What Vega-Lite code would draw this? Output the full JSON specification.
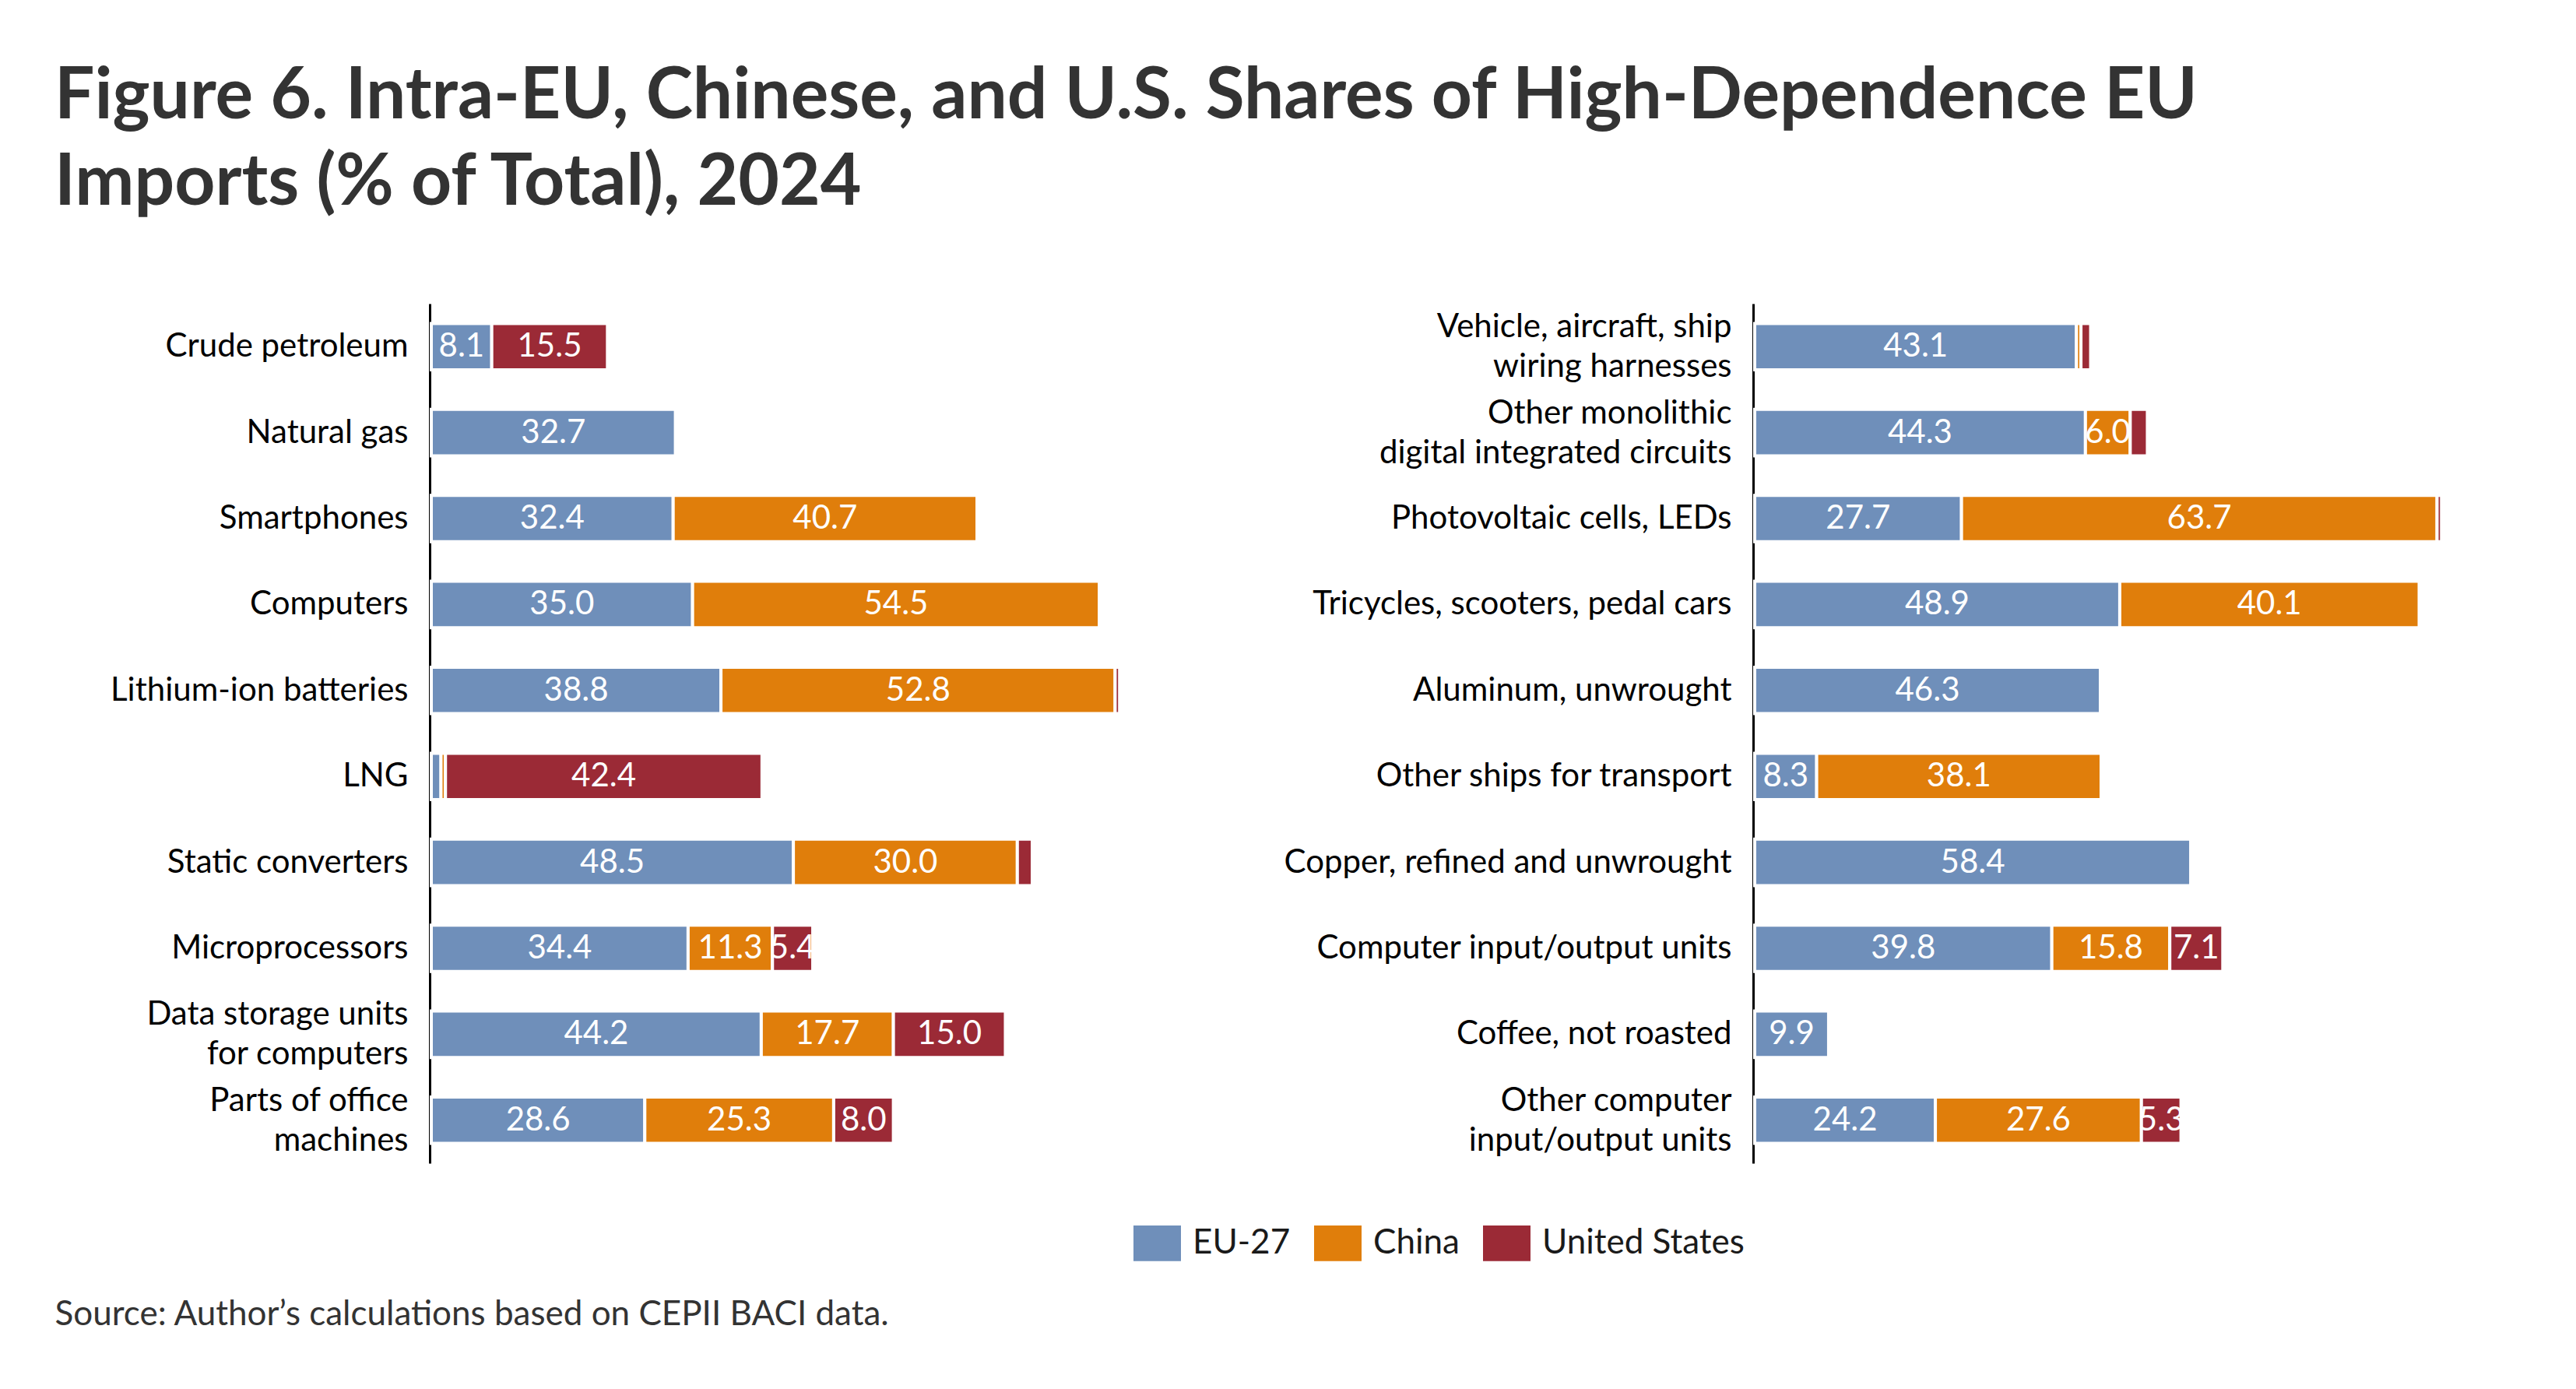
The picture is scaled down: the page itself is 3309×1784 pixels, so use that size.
{
 "$schema": "https://vega.github.io/schema/vega-lite/v6.json",
 "background": "white",
 "padding": {"left": 70, "top": 79, "right": 0, "bottom": 0},
 "title": {"text": ["Figure 6. Intra-EU, Chinese, and U.S. Shares of High-Dependence EU", "Imports (% of Total), 2024"], "anchor": "start", "frame": "bounds", "font": "Lato", "fontSize": 91, "fontWeight": "bold", "color": "#333333", "lineHeight": 111, "offset": 108},
 "config": {
  "font": "Lato",
  "view": {"stroke": null},
  "axisY": {"domain": true, "domainColor": "#000000", "domainWidth": 3, "offset": 2, "ticks": false, "grid": false, "title": null, "labelFont": "Lato", "labelFontSize": 42, "labelColor": "#000000", "labelPadding": 28, "labelLineHeight": 51, "labelLimit": 1000, "zindex": 1},
  "legend": {"orient": "none", "direction": "horizontal", "title": null, "symbolType": "M-1,-0.75H1V0.75H-1Z", "symbolSize": 3721, "symbolStrokeWidth": 0, "labelFont": "Lato", "labelFontSize": 44, "labelColor": "#1a1a1a", "labelOffset": 15, "labelLimit": 1000, "columnPadding": 30, "legendX": 902, "legendY": 1176}
 },
 "data": {"values": [
  {"panel": "L", "row": 1, "product": "Crude petroleum", "source": "EU-27", "k": 1, "value": 8.1},
  {"panel": "L", "row": 1, "product": "Crude petroleum", "source": "United States", "k": 3, "value": 15.5},
  {"panel": "L", "row": 2, "product": "Natural gas", "source": "EU-27", "k": 1, "value": 32.7},
  {"panel": "L", "row": 3, "product": "Smartphones", "source": "EU-27", "k": 1, "value": 32.4},
  {"panel": "L", "row": 3, "product": "Smartphones", "source": "China", "k": 2, "value": 40.7},
  {"panel": "L", "row": 4, "product": "Computers", "source": "EU-27", "k": 1, "value": 35.0},
  {"panel": "L", "row": 4, "product": "Computers", "source": "China", "k": 2, "value": 54.5},
  {"panel": "L", "row": 4, "product": "Computers", "source": "United States", "k": 3, "value": 0.3},
  {"panel": "L", "row": 5, "product": "Lithium-ion batteries", "source": "EU-27", "k": 1, "value": 38.8},
  {"panel": "L", "row": 5, "product": "Lithium-ion batteries", "source": "China", "k": 2, "value": 52.8},
  {"panel": "L", "row": 5, "product": "Lithium-ion batteries", "source": "United States", "k": 3, "value": 0.6},
  {"panel": "L", "row": 6, "product": "LNG", "source": "EU-27", "k": 1, "value": 1.3},
  {"panel": "L", "row": 6, "product": "LNG", "source": "China", "k": 2, "value": 0.6},
  {"panel": "L", "row": 6, "product": "LNG", "source": "United States", "k": 3, "value": 42.4},
  {"panel": "L", "row": 7, "product": "Static converters", "source": "EU-27", "k": 1, "value": 48.5},
  {"panel": "L", "row": 7, "product": "Static converters", "source": "China", "k": 2, "value": 30.0},
  {"panel": "L", "row": 7, "product": "Static converters", "source": "United States", "k": 3, "value": 2.0},
  {"panel": "L", "row": 8, "product": "Microprocessors", "source": "EU-27", "k": 1, "value": 34.4},
  {"panel": "L", "row": 8, "product": "Microprocessors", "source": "China", "k": 2, "value": 11.3},
  {"panel": "L", "row": 8, "product": "Microprocessors", "source": "United States", "k": 3, "value": 5.4},
  {"panel": "L", "row": 9, "product": "Data storage units|for computers", "source": "EU-27", "k": 1, "value": 44.2},
  {"panel": "L", "row": 9, "product": "Data storage units|for computers", "source": "China", "k": 2, "value": 17.7},
  {"panel": "L", "row": 9, "product": "Data storage units|for computers", "source": "United States", "k": 3, "value": 15.0},
  {"panel": "L", "row": 10, "product": "Parts of office|machines", "source": "EU-27", "k": 1, "value": 28.6},
  {"panel": "L", "row": 10, "product": "Parts of office|machines", "source": "China", "k": 2, "value": 25.3},
  {"panel": "L", "row": 10, "product": "Parts of office|machines", "source": "United States", "k": 3, "value": 8.0},
  {"panel": "R", "row": 1, "product": "Vehicle, aircraft, ship|wiring harnesses", "source": "EU-27", "k": 1, "value": 43.1},
  {"panel": "R", "row": 1, "product": "Vehicle, aircraft, ship|wiring harnesses", "source": "China", "k": 2, "value": 0.6},
  {"panel": "R", "row": 1, "product": "Vehicle, aircraft, ship|wiring harnesses", "source": "United States", "k": 3, "value": 1.3},
  {"panel": "R", "row": 2, "product": "Other monolithic|digital integrated circuits", "source": "EU-27", "k": 1, "value": 44.3},
  {"panel": "R", "row": 2, "product": "Other monolithic|digital integrated circuits", "source": "China", "k": 2, "value": 6.0},
  {"panel": "R", "row": 2, "product": "Other monolithic|digital integrated circuits", "source": "United States", "k": 3, "value": 2.3},
  {"panel": "R", "row": 3, "product": "Photovoltaic cells, LEDs", "source": "EU-27", "k": 1, "value": 27.7},
  {"panel": "R", "row": 3, "product": "Photovoltaic cells, LEDs", "source": "China", "k": 2, "value": 63.7},
  {"panel": "R", "row": 3, "product": "Photovoltaic cells, LEDs", "source": "United States", "k": 3, "value": 0.6},
  {"panel": "R", "row": 4, "product": "Tricycles, scooters, pedal cars", "source": "EU-27", "k": 1, "value": 48.9},
  {"panel": "R", "row": 4, "product": "Tricycles, scooters, pedal cars", "source": "China", "k": 2, "value": 40.1},
  {"panel": "R", "row": 5, "product": "Aluminum, unwrought", "source": "EU-27", "k": 1, "value": 46.3},
  {"panel": "R", "row": 6, "product": "Other ships for transport", "source": "EU-27", "k": 1, "value": 8.3},
  {"panel": "R", "row": 6, "product": "Other ships for transport", "source": "China", "k": 2, "value": 38.1},
  {"panel": "R", "row": 7, "product": "Copper, refined and unwrought", "source": "EU-27", "k": 1, "value": 58.4},
  {"panel": "R", "row": 8, "product": "Computer input/output units", "source": "EU-27", "k": 1, "value": 39.8},
  {"panel": "R", "row": 8, "product": "Computer input/output units", "source": "China", "k": 2, "value": 15.8},
  {"panel": "R", "row": 8, "product": "Computer input/output units", "source": "United States", "k": 3, "value": 7.1},
  {"panel": "R", "row": 9, "product": "Coffee, not roasted", "source": "EU-27", "k": 1, "value": 9.9},
  {"panel": "R", "row": 10, "product": "Other computer|input/output units", "source": "EU-27", "k": 1, "value": 24.2},
  {"panel": "R", "row": 10, "product": "Other computer|input/output units", "source": "China", "k": 2, "value": 27.6},
  {"panel": "R", "row": 10, "product": "Other computer|input/output units", "source": "United States", "k": 3, "value": 5.3}
 ]},
 "spacing": 136,
 "resolve": {"scale": {"color": "shared"}},
 "hconcat": [
  {
   "width": 959, "height": 1104,
   "transform": [
    {"filter": "datum.panel === 'L'"},
    {"stack": "value", "groupby": ["product"], "sort": [{"field": "k", "order": "ascending"}], "as": ["x0", "x1"]},
    {"calculate": "(datum.x0 + datum.x1) / 2", "as": "mid"}
   ],
   "encoding": {
    "y": {"field": "product", "type": "nominal", "sort": {"field": "row", "op": "min"}, "scale": {"paddingInner": 0.46, "paddingOuter": 0.23}, "axis": {"labelExpr": "split(datum.label, '|')", "labelOffset": {"condition": {"test": "indexof(datum.value, '|') >= 0", "value": -25}, "value": 0}}}
   },
   "layer": [
    {
     "mark": {"type": "bar", "stroke": "white", "strokeWidth": 4},
     "encoding": {
      "x": {"field": "x0", "type": "quantitative", "scale": {"domain": [0, 100]}, "axis": {"domain": false, "ticks": false, "labels": false, "grid": false, "title": "Source: Author’s calculations based on CEPII BACI data.", "titleAnchor": "start", "titleX": -484, "titleY": 207, "titleBaseline": "alphabetic", "titleFont": "Lato", "titleFontSize": 44, "titleFontWeight": "normal", "titleColor": "#333333"}},
      "x2": {"field": "x1"},
      "color": {"field": "source", "type": "nominal", "scale": {"domain": ["EU-27", "China", "United States"], "range": ["#6F8FBA", "#E07E0B", "#9B2A36"]}}
     }
    },
    {
     "transform": [{"filter": "datum.value >= 5"}],
     "mark": {"type": "text", "color": "white", "fontSize": 42, "baseline": "middle", "font": "Lato"},
     "encoding": {
      "x": {"field": "mid", "type": "quantitative", "axis": {"domain": false, "ticks": false, "labels": false, "grid": false, "title": "Source: Author’s calculations based on CEPII BACI data.", "titleAnchor": "start", "titleX": -484, "titleY": 207, "titleBaseline": "alphabetic", "titleFont": "Lato", "titleFontSize": 44, "titleFontWeight": "normal", "titleColor": "#333333"}},
      "text": {"field": "value", "type": "quantitative", "format": ".1f"}
     }
    }
   ]
  },
  {
   "width": 959, "height": 1104,
   "transform": [
    {"filter": "datum.panel === 'R'"},
    {"stack": "value", "groupby": ["product"], "sort": [{"field": "k", "order": "ascending"}], "as": ["x0", "x1"]},
    {"calculate": "(datum.x0 + datum.x1) / 2", "as": "mid"}
   ],
   "encoding": {
    "y": {"field": "product", "type": "nominal", "sort": {"field": "row", "op": "min"}, "scale": {"paddingInner": 0.46, "paddingOuter": 0.23}, "axis": {"labelExpr": "split(datum.label, '|')", "labelOffset": {"condition": {"test": "indexof(datum.value, '|') >= 0", "value": -25}, "value": 0}}}
   },
   "layer": [
    {
     "mark": {"type": "bar", "stroke": "white", "strokeWidth": 4},
     "encoding": {
      "x": {"field": "x0", "type": "quantitative", "scale": {"domain": [0, 100]}, "axis": null},
      "x2": {"field": "x1"},
      "color": {"field": "source", "type": "nominal", "scale": {"domain": ["EU-27", "China", "United States"], "range": ["#6F8FBA", "#E07E0B", "#9B2A36"]}}
     }
    },
    {
     "transform": [{"filter": "datum.value >= 5"}],
     "mark": {"type": "text", "color": "white", "fontSize": 42, "baseline": "middle", "font": "Lato"},
     "encoding": {
      "x": {"field": "mid", "type": "quantitative", "axis": null},
      "text": {"field": "value", "type": "quantitative", "format": ".1f"}
     }
    }
   ]
  }
 ]
}
